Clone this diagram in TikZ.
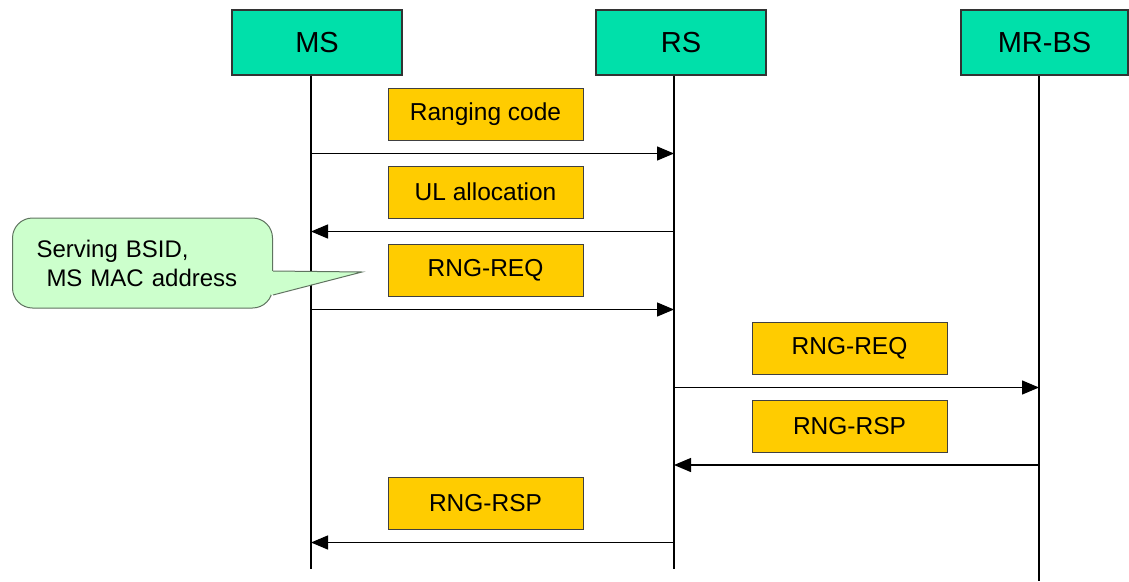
\documentclass[tikz,border=0pt]{standalone}
\usepackage{fontspec}
\setmainfont{Liberation Sans}
\usetikzlibrary{arrows.meta}
\definecolor{headgreen}{RGB}{0,224,170}
\definecolor{msgyellow}{RGB}{255,204,0}
\definecolor{notegreen}{RGB}{204,255,204}
\definecolor{noteline}{RGB}{95,115,95}

\begin{document}
\begin{tikzpicture}[x=1pt,y=-1pt,
  head/.style={draw=black!80,fill=headgreen,line width=1.2pt,minimum width=170pt,minimum height=65pt,inner sep=0pt,font=\fontsize{29}{34}\selectfont},
  msgbox/.style={draw=black!75,fill=msgyellow,line width=1pt,minimum width=195pt,minimum height=52pt,inner sep=0pt,font=\fontsize{24.5}{28}\selectfont},
  life/.style={line width=1.2pt},
  msg/.style={line width=1.3pt,-{Triangle[length=17pt,width=14pt]}}]
\useasboundingbox (0,0) rectangle (1129,581);

\node[head] (ms) at (317,42.5) {MS};
\node[head] (rs) at (681,42.5) {RS};
\node[head,minimum width=167pt] (bs) at (1044.5,42.5) {MR-BS};
\coordinate (msl) at (311,569);
\coordinate (rsl) at (674,569);
\coordinate (bsl) at (1039,581);
\draw[life] (ms.south -| msl) -- (msl);
\draw[life] (rs.south -| rsl) -- (rsl);
\draw[life] (bs.south -| bsl) -- (bsl);

\node[msgbox] (code) at (485.5,114) {Ranging code};
\node[msgbox] (ul) at (485.5,192) {UL allocation};
\node[msgbox] (req) at (485.5,270) {RNG-REQ};
\node[msgbox] (breq) at (849.5,348) {RNG-REQ};
\node[msgbox] (brsp) at (849.5,426) {RNG-RSP};
\node[msgbox] (rsp) at (485.5,503.5) {RNG-RSP};

\path (code.south) ++(0,13) coordinate (a1);
\path (ul.south) ++(0,13) coordinate (a2);
\path (req.south) ++(0,13) coordinate (a3);
\path (breq.south) ++(0,13) coordinate (a4);
\path (brsp.south) ++(0,12.5) coordinate (a5);
\path (rsp.south) ++(0,12.5) coordinate (a6);
\draw[msg] (a1 -| msl) -- (a1 -| rsl);
\draw[msg] (a2 -| rsl) -- (a2 -| msl);
\draw[msg] (a3 -| msl) -- (a3 -| rsl);
\draw[msg] (a4 -| rsl) -- (a4 -| bsl);
\draw[msg] (a5 -| bsl) -- (a5 -| rsl);
\draw[msg] (a6 -| rsl) -- (a6 -| msl);

\node[draw=noteline,fill=notegreen,line width=1pt,rounded corners=20pt,anchor=west,minimum height=90pt,text width=212pt,inner xsep=24pt,align=left,font=\fontsize{24}{29}\selectfont] (note) at (12,263) {Serving BSID,\\\hspace*{10pt}MS MAC address};
\coordinate (tip) at (362,272);
\coordinate (p1) at ([yshift=-8pt]note.east);
\coordinate (p2) at ([yshift=-32pt]note.east);
\fill[notegreen] ([xshift=-2pt]p1) -- (tip) -- ([xshift=-2pt]p2) -- cycle;
\draw[noteline,line width=1pt] (p1) -- (tip) -- (p2);
\end{tikzpicture}
\end{document}
